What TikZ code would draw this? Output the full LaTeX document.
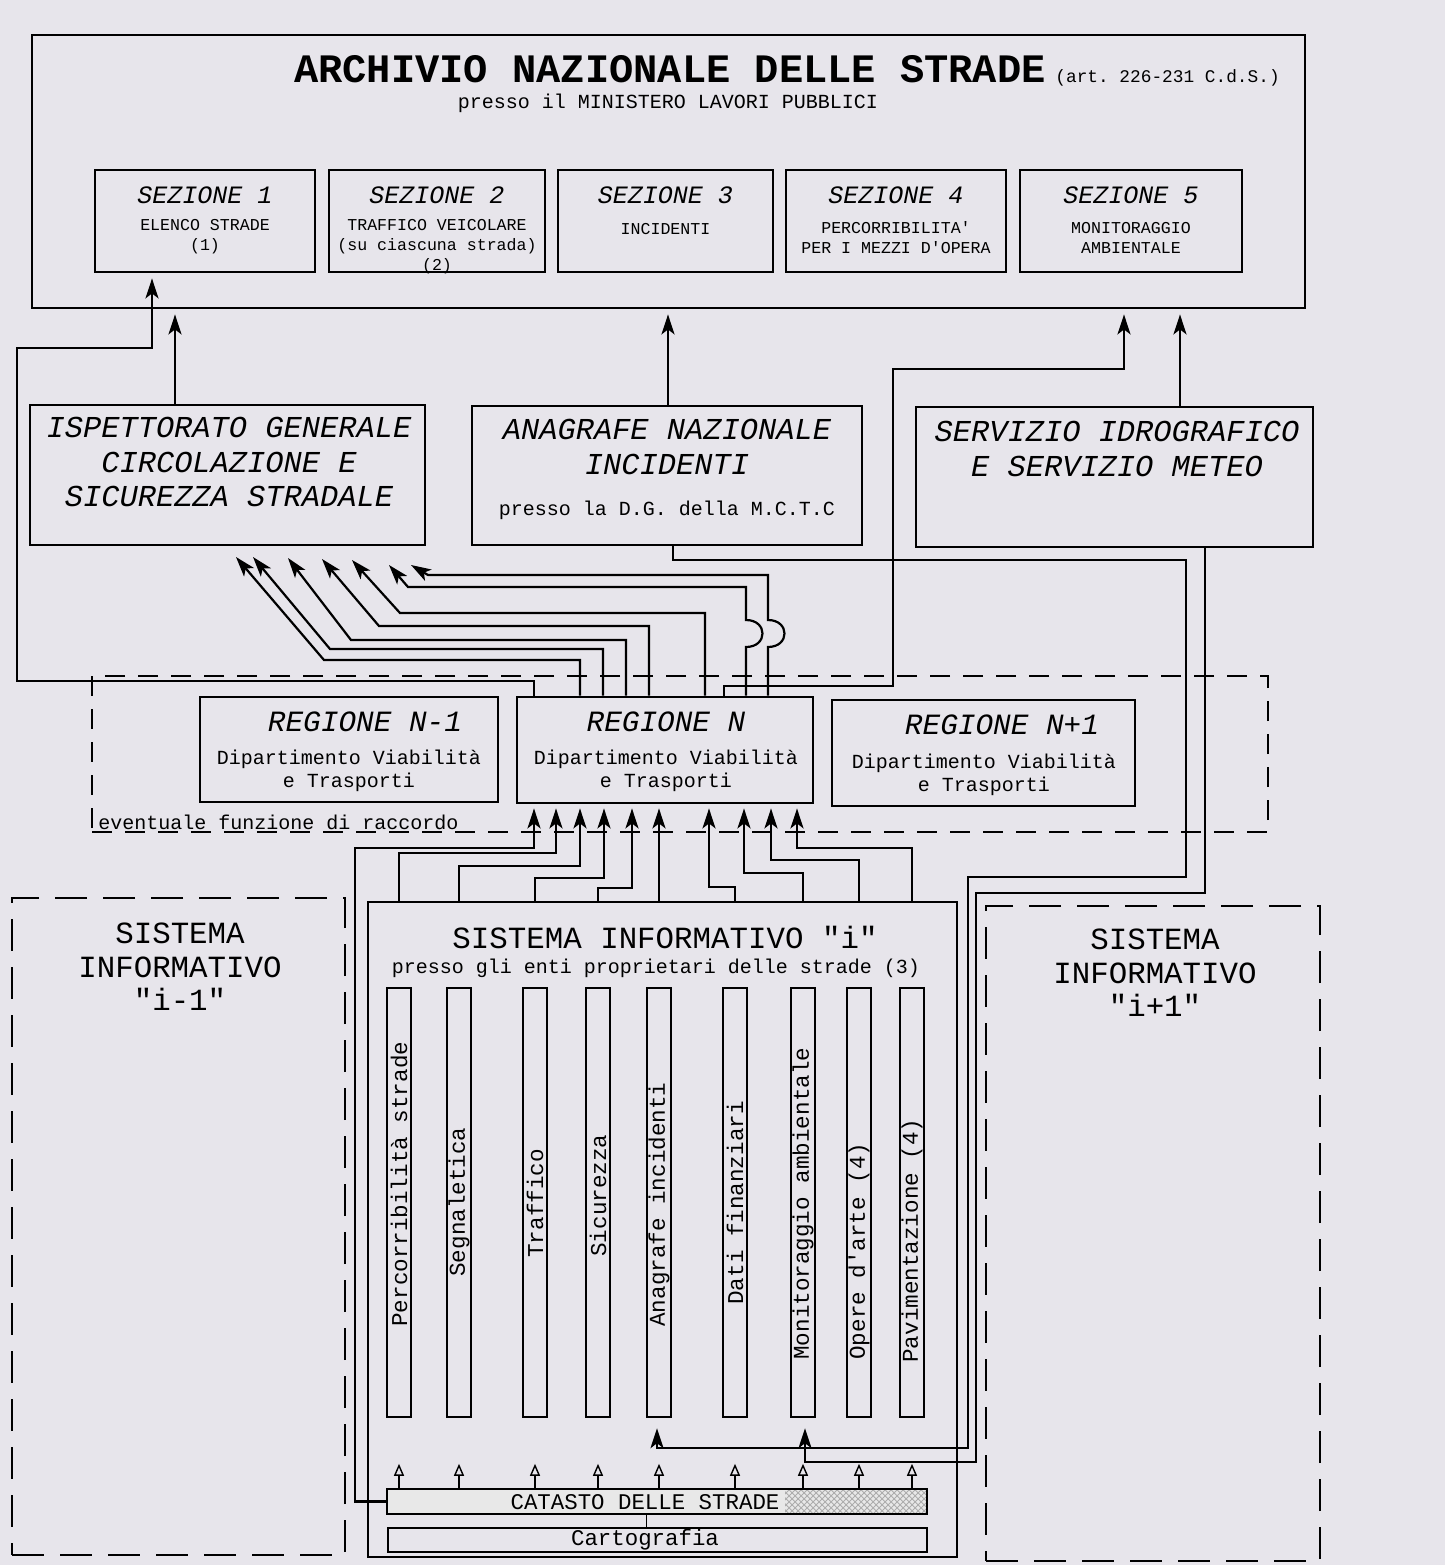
\documentclass[tikz,border=0pt]{standalone}
\usepackage{fontspec}
\setmonofont{Liberation Mono}
\renewcommand{\familydefault}{\ttdefault}
\usetikzlibrary{arrows.meta,fit,patterns}
\definecolor{paper}{RGB}{231,229,235}
\newcommand{\fsz}[2]{\fontsize{#1}{#2}\selectfont}
\tikzset{box/.style={draw, line width=1.4pt, inner sep=0pt}}
\tikzset{colbox/.style={draw, line width=1.2pt, inner sep=0pt}}
\tikzset{dbox/.style={draw, line width=1.3pt, inner sep=0pt, dash pattern=on 16pt off 8pt}}
\tikzset{rbox/.style={draw, line width=1.2pt, inner sep=0pt, dash pattern=on 10pt off 6.5pt}}
\tikzset{arr/.style={-{Stealth[length=10pt,width=6.5pt,inset=2.5pt]}, line width=1.1pt}}
\tikzset{oarr/.style={-{Triangle[open,length=6pt,width=5pt]}, line width=0.7pt}}
\tikzset{txt/.style={inner sep=0pt, align=center}}
\tikzset{ttl/.style={txt, font=\fsz{20.2}{24}\bfseries}}
\tikzset{smallt/.style={txt, font=\fsz{8.9}{10}}}
\tikzset{sub/.style={txt, font=\fsz{10}{12}}}
\tikzset{sezh/.style={txt, font=\fsz{12.5}{14}\itshape}}
\tikzset{sezt/.style={txt, font=\fsz{8.3}{10}}}
\tikzset{ente/.style={txt, font=\fsz{15.2}{17.25}\itshape}}
\tikzset{regh/.style={txt, font=\fsz{14.7}{16}\itshape}}
\tikzset{regt/.style={txt, font=\fsz{10}{11.5}}}
\tikzset{sysh/.style={txt, font=\fsz{15.4}{16.75}}}
\tikzset{colt/.style={inner sep=0pt, rotate=90, anchor=west, font=\fsz{11.3}{12}}}
\tikzset{bart/.style={txt, font=\fsz{11.2}{12}}}

\begin{document}
\begin{tikzpicture}[x=0.5pt, y=-0.5pt]

\fill[paper] (0,0) rectangle (1445,1565);
\useasboundingbox (0,0) rectangle (1445,1565);

% archivio nazionale
\node[box, fit={(32,35) (1305,308)}] (arch) {};
\node[ttl, anchor=base] (archT) at (670,82) {ARCHIVIO NAZIONALE DELLE STRADE};
\node[smallt, anchor=base west] (archA) at (1055,82) {(art. 226-231 C.d.S.)};
\node[sub] (archP) at (668,103) {presso il MINISTERO LAVORI PUBBLICI};

\foreach \n/\xa/\xb/\t/\yt in {1/95/315/{ELENCO STRADE\\(1)}/237,
  2/329/545/{TRAFFICO VEICOLARE\\(su ciascuna strada)\\(2)}/247,
  3/558/773/{INCIDENTI}/229,
  4/786/1006/{PERCORRIBILITA'\\PER I MEZZI D'OPERA}/238,
  5/1020/1242/{MONITORAGGIO\\AMBIENTALE}/238}{
  \node[box, fit={(\xa,170) (\xb,272)}] (sez\n) {};
  \node[sezh] (sezh\n) at (sez\n.center |- 0,195) {SEZIONE \n};
  \node[sezt] (sezt\n) at (sez\n.center |- 0,\yt) {\t};
}

% enti nazionali
\node[box, fit={(30,405) (425,545)}] (isp) {};
\node[ente] (ispT) at (229,462) {ISPETTORATO GENERALE\\CIRCOLAZIONE E\\SICUREZZA STRADALE};
\node[box, fit={(472,406) (862,545)}] (ana) {};
\node[ente] (anaT) at (667,447) {ANAGRAFE NAZIONALE\\INCIDENTI};
\node[sub] (anaP) at (667,510) {presso la D.G. della M.C.T.C};
\node[box, fit={(916,407) (1313,547)}] (ser) {};
\node[ente] (serT) at (1117,449) {SERVIZIO IDROGRAFICO\\E SERVIZIO METEO};

% regioni
\node[rbox, fit={(92,676) (1268,832)}] (racc) {};
\node[sub, anchor=base west] (raccT) at (98,829) {eventuale funzione di raccordo};
\node[box, fit={(200,697) (498,802)}] (regA) {};
\node[regh] (regAh) at (365,722) {REGIONE N-1};
\node[regt] (regAt) at (349,771) {Dipartimento Viabilità\\e Trasporti};
\node[box, fit={(517,697) (813,803)}] (regN) {};
\node[regh] (regNh) at (666,722) {REGIONE N};
\node[regt] (regNt) at (666,771) {Dipartimento Viabilità\\e Trasporti};
\node[box, fit={(832,700) (1135,806)}] (regB) {};
\node[regh] (regBh) at (1002,725) {REGIONE N+1};
\node[regt] (regBt) at (984,775) {Dipartimento Viabilità\\e Trasporti};

% sistemi informativi
\node[dbox, fit={(12,898) (345,1555)}] (sisA) {};
\node[sysh] (sisAT) at (180,967) {SISTEMA\\INFORMATIVO\\"i-1"};
\node[dbox, fit={(986,906) (1320,1561)}] (sisB) {};
\node[sysh] (sisBT) at (1155,973) {SISTEMA\\INFORMATIVO\\"i+1"};
\node[box, fit={(368,902) (957,1557)}] (sis) {};
\node[sysh] (sisT) at (665,937) {SISTEMA INFORMATIVO "i"};
\node[sub] (sisP) at (656,968) {presso gli enti proprietari delle strade (3)};

\foreach \n/\x/\y/\t in {1/399/1327/Percorribilità strade, 2/459/1277/Segnaletica,
  3/535/1258/Traffico, 4/598/1257/Sicurezza, 5/659/1327/Anagrafe incidenti,
  6/735/1305/Dati finanziari, 7/803/1360/Monitoraggio ambientale,
  8/859/1360/Opere d'arte (4), 9/912/1363/Pavimentazione (4)}{
  \node[colbox, fit={(\x-12,988) (\x+12,1417)}] (c\n) {};
  \node[colt] (ct\n) at (\x,\y) {\t};
}

\fill[gray!18] (387,1489) rectangle (927,1514);
\fill[pattern=crosshatch, pattern color=gray!65] (785,1489) rectangle (927,1514);
\node[colbox, fit={(387,1489) (927,1514)}] (cat) {};
\node[bart] (catT) at (645,1502) {CATASTO DELLE STRADE};
\node[colbox, fit={(388,1528) (927,1552)}] (carto) {};
\node[bart] (cartoT) at (645,1540) {Cartografia};
\draw[line width=0.5pt] (646,0 |- cat.south) -- (646,0 |- carto.north);

\foreach \n in {1,...,9}
  \draw[oarr] (c\n.center |- cat.north) -- ++(0,-24);

% verso l'archivio
\draw[arr, shorten >=2.5pt] (175,0 |- isp.north) -- (175,0 |- arch.south);
\draw[arr, shorten >=2.5pt] (668,0 |- ana.north) -- (668,0 |- arch.south);
\draw[arr, shorten >=2.5pt] (1180,0 |- ser.north) -- (1180,0 |- arch.south);
\draw[arr, shorten >=2.5pt] (534,0 |- regN.north) |- (17,681) |- (152,348) -- (152,0 |- sez1.south);
\draw[arr, shorten >=2.5pt] (724,0 |- regN.north) |- (893,686) |- (1124,369) -- (1124,0 |- arch.south);

% regione N -> ispettorato
\foreach \vx/\cy/\cx/\tx/\ty in {580/660/324/236/557, 603/649/330/253/557,
  626/640/351/288/558, 649/626/379/322/559, 705/613/400/352/560}
  \draw[arr] (\vx,0 |- regN.north) |- (\cx,\cy) -- (\tx,\ty);
\draw[arr] (746,0 |- regN.north) -- (746,647) .. controls (768,647) and (768,620) .. (746,620) |- (408,587) -- (389,565);
\draw[arr] (768,0 |- regN.north) -- (768,647) .. controls (790,647) and (790,620) .. (768,620) |- (428,575) -- (411,565);

% ritorno dati incidenti e meteo
\draw[arr, shorten >=5pt] (673,0 |- ana.south) |- (1186,560) |- (968,877) |- (657,1448) -- (657,0 |- c5.south);
\draw[arr, shorten >=5pt] (1205,0 |- ser.south) |- (976,893) |- (805,1462) -- (805,0 |- c7.south);

% sistema i -> regione N
\foreach \n/\hy/\ax in {1/853/556, 2/866/580, 3/878/604, 4/888/632,
  6/887/709, 7/873/744, 8/860/771, 9/848/797}
  \draw[arr, shorten >=2pt] (c\n.center |- sis.north) |- (\ax,\hy) -- (\ax,0 |- regN.south);
\draw[arr, shorten >=2pt] (c5.center |- sis.north) -- (c5.center |- regN.south);
\draw[arr, shorten >=2pt] (cat.west) -| (355,848) -| (534,0 |- regN.south);

\end{tikzpicture}
\end{document}
